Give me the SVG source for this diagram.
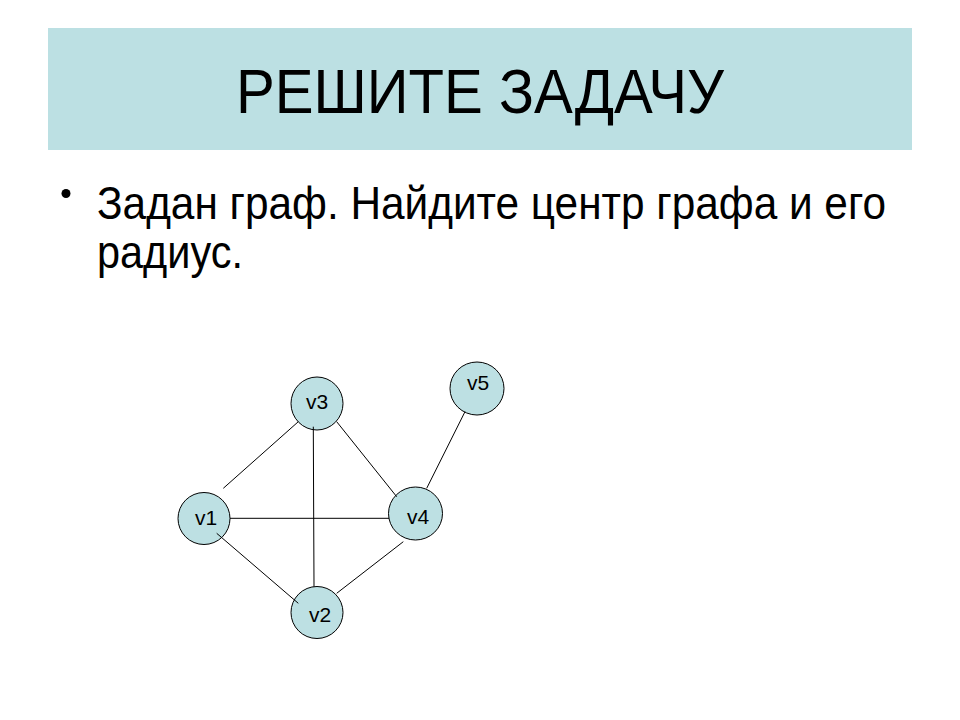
<svg xmlns="http://www.w3.org/2000/svg" width="960" height="720" viewBox="0 0 960 720">
<style>
.t{font-family:"Liberation Sans",Arial,sans-serif;fill:#000}
.node ellipse{fill:#bde0e3;stroke:#000;stroke-width:1}
.lbl{font-family:"Liberation Sans",Arial,sans-serif;font-size:21px;fill:#000}
#edges line{stroke:#000;stroke-width:1}
</style>
<rect width="960" height="720" fill="#fff"/>
<rect x="48" y="28" width="864" height="122" fill="#bce0e3"/>
<text class="t" x="236" y="113" font-size="63" textLength="488" lengthAdjust="spacingAndGlyphs">РЕШИТЕ ЗАДАЧУ</text>
<circle cx="66" cy="193.5" r="4.5" fill="#000"/>
<text class="t" x="97" y="219" font-size="47" textLength="789" lengthAdjust="spacingAndGlyphs">Задан граф. Найдите центр графа и его</text>
<text class="t" x="97" y="268" font-size="47" textLength="146" lengthAdjust="spacingAndGlyphs">радиус.</text>
<g id="v1" class="node"><ellipse cx="204" cy="518.5" rx="26" ry="26"/><text class="lbl" x="195" y="525">v1</text></g>
<g id="v2" class="node"><ellipse cx="317" cy="612.5" rx="26" ry="26"/><text class="lbl" x="309" y="622">v2</text></g>
<g id="v3" class="node"><ellipse cx="317" cy="403.5" rx="26" ry="26.5"/><text class="lbl" x="306" y="409">v3</text></g>
<g id="v4" class="node"><ellipse cx="415.5" cy="513.5" rx="27" ry="26.5"/><text class="lbl" x="407" y="524">v4</text></g>
<g id="v5" class="node"><ellipse cx="477" cy="388.5" rx="27" ry="26.5"/><text class="lbl" x="467" y="390">v5</text></g>
<g id="edges">
<line x1="223.3" y1="488.3" x2="298.3" y2="421.7"/>
<line x1="336.7" y1="421.7" x2="396.7" y2="496.7"/>
<line x1="313.3" y1="426.7" x2="314" y2="586.7"/>
<line x1="230" y1="518.3" x2="389.3" y2="518.3"/>
<line x1="216.7" y1="533.3" x2="298.3" y2="603.3"/>
<line x1="403.3" y1="541.7" x2="336.7" y2="593.3"/>
<line x1="465" y1="411.7" x2="426.7" y2="488.3"/>
</g>
</svg>
